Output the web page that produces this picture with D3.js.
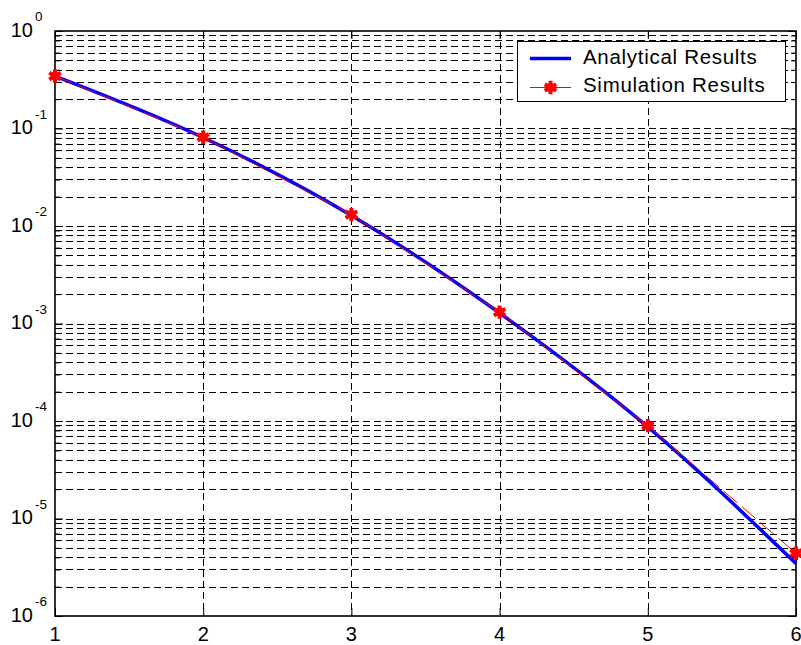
<!DOCTYPE html>
<html>
<head>
<meta charset="utf-8">
<script src="https://cdn.jsdelivr.net/npm/d3@7"></script>
<style>
  html, body { margin: 0; padding: 0; background: #fff; }
  svg { display: block; font-family: Arial, "Liberation Sans", sans-serif; }
</style>
</head>
<body>
<svg id="chart" width="801" height="645"></svg>
<script>
// SNR steps on the x axis
const xValues = [1, 2, 3, 4, 5, 6];
// Error probability from the closed-form expression
const analytical = [0.345, 0.0808, 0.0128, 0.00128, 8.7e-5, 3.45e-6];
// Error probability measured by Monte-Carlo simulation
const simulation = [0.345, 0.0813, 0.0131, 0.00131, 8.95e-5, 4.4e-6];
// Axis labels
const xTickLabels = ["1", "2", "3", "4", "5", "6"];
const yDecades = [1e-6, 1e-5, 1e-4, 1e-3, 1e-2, 1e-1, 1];
const yExponents = ["-6", "-5", "-4", "-3", "-2", "-1", "0"];
const seriesNames = ["Analytical Results", "Simulation Results"];

const svg = d3.select("#chart");
const plotLeft = 55, plotRight = 796, plotTop = 31, plotBottom = 616;

const x = d3.scaleLinear().domain([1, 6]).range([plotLeft, plotRight]);
const y = d3.scaleLog().domain([1e-6, 1]).range([plotBottom, plotTop]);

// minor log positions (2..9 within each decade)
const minorTicks = [];
for (let e = -6; e < 0; e++) {
  for (let m = 2; m <= 9; m++) minorTicks.push(m * Math.pow(10, e));
}
const allYGrid = minorTicks.concat(yDecades.slice(1, -1));

const grid = svg.append("g").attr("class", "grid");
// horizontal dashed grid
grid.selectAll("line.h").data(allYGrid).join("line")
  .attr("class", "h")
  .attr("x1", plotLeft).attr("x2", plotRight)
  .attr("y1", d => Math.round(y(d)) + 0.5).attr("y2", d => Math.round(y(d)) + 0.5)
  .attr("stroke", "#000").attr("stroke-width", 1)
  .attr("stroke-dasharray", "7,4");
// vertical dashed grid
grid.selectAll("line.v").data(xValues.slice(1, -1)).join("line")
  .attr("class", "v")
  .attr("x1", d => Math.round(x(d)) + 0.5).attr("x2", d => Math.round(x(d)) + 0.5)
  .attr("y1", plotTop).attr("y2", plotBottom)
  .attr("stroke", "#000").attr("stroke-width", 1)
  .attr("stroke-dasharray", "7,4");

// axes with inward ticks
const axisStyle = g => {
  g.select(".domain").remove();
  g.selectAll("text").remove();
  g.selectAll("line").attr("stroke", "#000").attr("stroke-width", 1);
};
svg.append("g").attr("transform", `translate(${plotLeft},0)`)
  .call(d3.axisLeft(y).tickValues(yDecades).tickSize(-8).tickFormat(""))
  .call(axisStyle);
svg.append("g").attr("transform", `translate(${plotLeft},0)`)
  .call(d3.axisLeft(y).tickValues(minorTicks).tickSize(-5).tickFormat(""))
  .call(axisStyle);
svg.append("g").attr("transform", `translate(${plotRight},0)`)
  .call(d3.axisRight(y).tickValues(yDecades).tickSize(-8).tickFormat(""))
  .call(axisStyle);
svg.append("g").attr("transform", `translate(${plotRight},0)`)
  .call(d3.axisRight(y).tickValues(minorTicks).tickSize(-5).tickFormat(""))
  .call(axisStyle);
svg.append("g").attr("transform", `translate(0,${plotBottom})`)
  .call(d3.axisBottom(x).tickValues(xValues).tickSize(-8).tickFormat(""))
  .call(axisStyle);
svg.append("g").attr("transform", `translate(0,${plotTop})`)
  .call(d3.axisTop(x).tickValues(xValues).tickSize(-8).tickFormat(""))
  .call(axisStyle);

// frame
svg.append("rect")
  .attr("x", plotLeft).attr("y", plotTop)
  .attr("width", plotRight - plotLeft).attr("height", plotBottom - plotTop)
  .attr("fill", "none").attr("stroke", "#000").attr("stroke-width", 1.6);

// y tick labels: 10 with superscript exponent
const yl = svg.append("g").attr("class", "ylabels");
yDecades.forEach((d, i) => {
  yl.append("text")
    .attr("x", 33).attr("y", y(d) + 5.5)
    .attr("text-anchor", "end")
    .attr("font-size", 20).attr("fill", "#000")
    .text("10");
  yl.append("text")
    .attr("x", 35).attr("y", y(d) - 10)
    .attr("font-size", 13.5).attr("fill", "#000")
    .text(yExponents[i]);
});

// x tick labels
svg.append("g").selectAll("text").data(xValues).join("text")
  .attr("x", d => x(d)).attr("y", 640.5)
  .attr("text-anchor", "middle")
  .attr("font-size", 20).attr("fill", "#000")
  .text((d, i) => xTickLabels[i]);

const analyticalLine = d3.line()
  .x((d, i) => x(xValues[i]))
  .y(d => y(d))
  .curve(d3.curveMonotoneX);
const simLine = d3.line()
  .x((d, i) => x(xValues[i]))
  .y(d => y(d));

const plot = svg.append("g");
plot.append("path").datum(analytical)
  .attr("d", analyticalLine)
  .attr("fill", "none").attr("stroke", "#0000ff").attr("stroke-width", 3.5);
plot.append("path").datum(simulation)
  .attr("d", simLine)
  .attr("fill", "none").attr("stroke", "#ff0000").attr("stroke-width", 1)
  .attr("stroke-dasharray", "18,6");

// asterisk marker
const markerPath = d3.symbol().type(d3.symbolAsterisk).size(125)();
const drawMarker = (g, cx, cy) => {
  g.append("path")
    .attr("d", markerPath)
    .attr("transform", `translate(${cx},${cy})`)
    .attr("fill", "none").attr("stroke", "#ff0000").attr("stroke-width", 4);
  g.append("circle").attr("cx", cx).attr("cy", cy).attr("r", 4.5).attr("fill", "#ff0000");
};
simulation.forEach((d, i) => drawMarker(plot, x(xValues[i]), y(d)));

// legend
const lg = svg.append("g");
lg.append("rect")
  .attr("x", 517.5).attr("y", 41.5).attr("width", 268).attr("height", 60)
  .attr("fill", "#fff").attr("stroke", "#000").attr("stroke-width", 1);
lg.append("line")
  .attr("x1", 530).attr("x2", 571).attr("y1", 58.5).attr("y2", 58.5)
  .attr("stroke", "#0000ff").attr("stroke-width", 3.5);
lg.append("line")
  .attr("x1", 530).attr("x2", 571).attr("y1", 87.5).attr("y2", 87.5)
  .attr("stroke", "#ff0000").attr("stroke-width", 1);
drawMarker(lg, 550.5, 87.5);
lg.selectAll("text.lt").data(seriesNames).join("text")
  .attr("class", "lt")
  .attr("x", 583).attr("y", (d, i) => 64 + i * 27.5)
  .attr("font-size", 20.5).attr("letter-spacing", 0.7).attr("fill", "#000")
  .text(d => d);
</script>
</body>
</html>
